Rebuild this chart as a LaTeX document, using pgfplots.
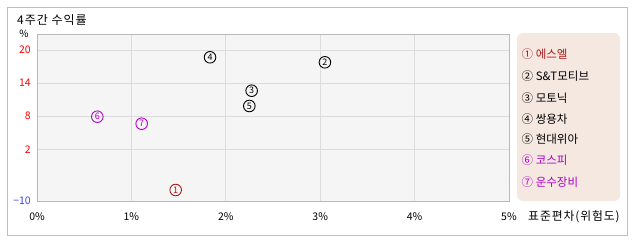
\documentclass[border=0pt]{standalone}
\usepackage{pgfplots}
\pgfplotsset{compat=1.18}
\usepackage{fontspec}
\setmainfont{Noto Sans CJK KR}
\newfontfamily\widefont[LetterSpace=8]{Noto Sans CJK KR}
\definecolor{framegray}{RGB}{190,190,190}
\definecolor{axisgray}{RGB}{185,185,185}
\definecolor{gridgray}{RGB}{220,220,220}
\definecolor{plotbg}{RGB}{245,245,245}
\definecolor{legbg}{RGB}{245,232,225}
\definecolor{darkred}{RGB}{170,25,25}
\definecolor{purp}{RGB}{175,0,200}
\definecolor{tickred}{RGB}{255,0,0}
\definecolor{tickblue}{RGB}{64,64,255}
\begin{document}
\begin{tikzpicture}[x=1pt,y=1pt]
\path (0pt,0pt) rectangle (638pt,-242pt);
\draw[framegray] (7pt,-7pt) rectangle (627pt,-235pt);
\node[anchor=west,font=\widefont\fontsize{12}{12}\selectfont,inner sep=0pt] at (17pt,-20pt) {4주간 수익률};
\node[font=\fontsize{10}{10}\selectfont,inner sep=0pt] at (24pt,-34pt) {\%};
\node[anchor=west,font=\widefont\fontsize{11.8}{11.8}\selectfont,inner sep=0pt] at (528pt,-217pt) {표준편차(위험도)};
\begin{axis}[
  at={(37pt,-201pt)}, anchor=south west,
  scale only axis, width=472pt, height=167pt,
  xmin=0, xmax=5, ymin=-10, ymax=22.9,
  y coord trafo/.code={\pgfmathparse{#1>=2 ? #1 : 2+(#1-2)*0.781}},
  axis background/.style={fill=plotbg},
  axis line style={axisgray},
  grid=major, major grid style={gridgray, line width=0.8pt},
  major tick length=0pt,
  xtick={0,1,2,3,4,5},
  xticklabels={0\%,1\%,2\%,3\%,4\%,5\%},
  ytick={-10,2,8,14,20},
  yticklabels={{\color{tickblue}−10},2,8,14,20},
  yticklabel style={tickred, font=\fontsize{10.5}{10.5}\selectfont, inner sep=0pt, xshift=-6pt},
  xticklabel style={font=\fontsize{10.5}{10.5}\selectfont, inner sep=0pt, yshift=-11pt},
  clip=false,
  nodes near coords,
  point meta=explicit symbolic,
  every node near coord/.append style={anchor=center, inner sep=0pt, font=\fontsize{9}{9}\selectfont},
]
\addplot[only marks, mark=o, mark size=5.8pt, darkred, mark options={line width=0.9pt}, every node near coord/.append style={text=darkred}] coordinates {(1.469,-7.45) [1]};
\addplot[only marks, mark=o, mark size=5.8pt, black, mark options={line width=0.9pt}] coordinates {(3.05,17.77) [2]};
\addplot[only marks, mark=o, mark size=5.8pt, black, mark options={line width=0.9pt}] coordinates {(2.274,12.62) [3]};
\addplot[only marks, mark=o, mark size=5.8pt, black, mark options={line width=0.9pt}] coordinates {(1.833,18.68) [4]};
\addplot[only marks, mark=o, mark size=5.8pt, black, mark options={line width=0.9pt}] coordinates {(2.249,9.85) [5]};
\addplot[only marks, mark=o, mark size=5.8pt, purp, mark options={line width=0.9pt}, every node near coord/.append style={text=purp}] coordinates {(0.639,7.91) [6]};
\addplot[only marks, mark=o, mark size=5.8pt, purp, mark options={line width=0.9pt}, every node near coord/.append style={text=purp}] coordinates {(1.109,6.64) [7]};
\end{axis}
\fill[legbg, rounded corners=6pt] (517pt,-33pt) rectangle (620pt,-201pt);
\begin{scope}[every node/.style={anchor=west, inner sep=0pt, font=\fontsize{11.5}{11.5}\selectfont}]
\node[text=darkred] at (521.5pt,-54.3pt) {① 에스엘};
\node at (521.5pt,-76pt) {② S\&T모티브};
\node at (521.5pt,-97.7pt) {③ 모토닉};
\node at (521.5pt,-118.8pt) {④ 쌍용차};
\node at (521.5pt,-139.3pt) {⑤ 현대위아};
\node[text=purp] at (521.5pt,-160.3pt) {⑥ 코스피};
\node[text=purp] at (521.5pt,-182pt) {⑦ 운수장비};
\end{scope}
\end{tikzpicture}
\end{document}
